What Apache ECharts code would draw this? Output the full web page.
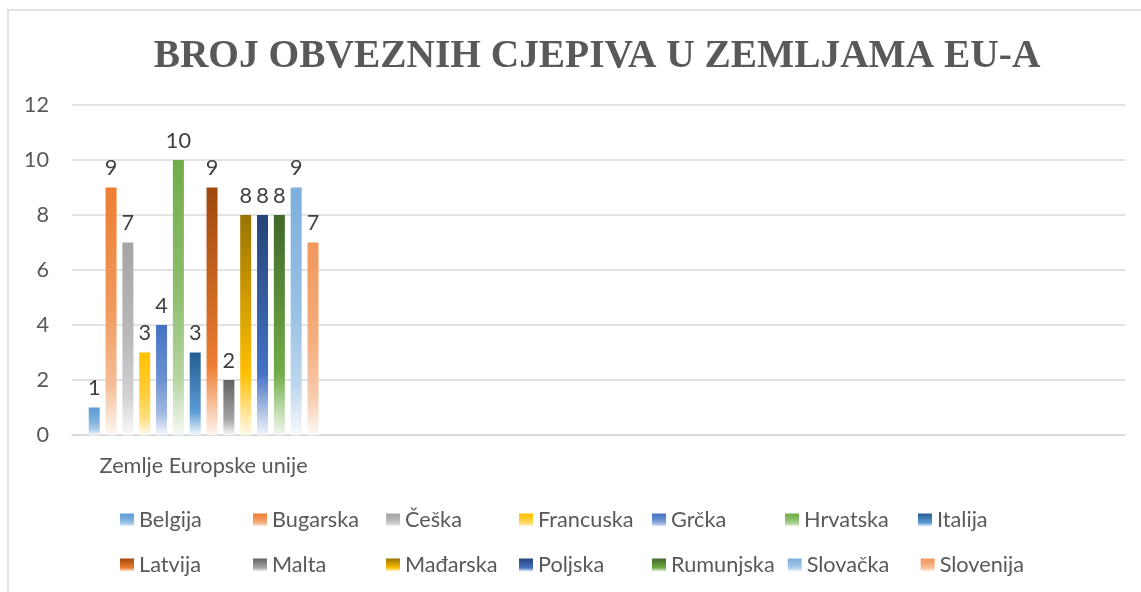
<!DOCTYPE html>
<html>
<head>
<meta charset="utf-8">
<script src="https://cdn.jsdelivr.net/npm/echarts@6/dist/echarts.min.js"></script>
<style>html,body{margin:0;padding:0;background:#fff}#c{width:1141px;height:592px}</style>
</head>
<body>
<div id="c"></div>
<script>
const titleText = 'BROJ OBVEZNIH CJEPIVA U ZEMLJAMA EU-A';
const categories = ['Zemlje Europske unije', '', '', ''];
const countries = ['Belgija','Bugarska','Češka','Francuska','Grčka','Hrvatska','Italija','Latvija','Malta','Mađarska','Poljska','Rumunjska','Slovačka','Slovenija'];
const values = [1, 9, 7, 3, 4, 10, 3, 9, 2, 8, 8, 8, 9, 7];
const topColors = ['#5B9BD5','#ED7D31','#A5A5A5','#FFC000','#4472C4','#70AD47','#255E91','#9E480E','#636363','#997300','#264478','#43682B','#7CAFDD','#F1975A'];
const baseColors = ['#5B9BD5','#ED7D31','#A5A5A5','#FFC000','#4472C4','#70AD47','#5B9BD5','#ED7D31','#A5A5A5','#FFC000','#4472C4','#70AD47','#7CAFDD','#F1975A'];
const yTicks = {min: 0, max: 12, interval: 2};

function mix(hex, t) {
  const n = parseInt(hex.slice(1), 16);
  const r = (n >> 16) & 255, g = (n >> 8) & 255, b = n & 255;
  const f = v => Math.round(v + (255 - v) * t);
  return 'rgb(' + f(r) + ',' + f(g) + ',' + f(b) + ')';
}
function grad(i) {
  const top = topColors[i], base = baseColors[i];
  let stops;
  if (top !== base) {
    stops = [
      {offset: 0, color: top},
      {offset: 0.72, color: base},
      {offset: 1, color: mix(base, 0.92)}
    ];
  } else {
    stops = [
      {offset: 0, color: top},
      {offset: 0.5, color: mix(top, 0.22)},
      {offset: 0.8, color: mix(top, 0.5)},
      {offset: 1, color: mix(top, 0.94)}
    ];
  }
  return new echarts.graphic.LinearGradient(0, 0, 0, 1, stops);
}

const FONT = 'Lato';
const FS = 21.7;
const chart = echarts.init(document.getElementById('c'), null, {renderer: 'canvas'});
const series = countries.map((name, i) => ({
  name: name,
  type: 'bar',
  data: [values[i]],
  barWidth: 11,
  barGap: '53%',
  itemStyle: {color: grad(i)},
  label: {
    show: true,
    position: 'top',
    distance: 8,
    color: '#404040',
    fontFamily: FONT,
    fontSize: FS
  }
}));

chart.setOption({
  animation: false,
  backgroundColor: '#fff',
  title: {
    text: titleText,
    left: 592,
    textAlign: 'center',
    top: 32,
    textStyle: {
      fontFamily: 'Liberation Serif',
      fontWeight: 'bold',
      fontSize: 39.4,
      color: '#595959'
    }
  },
  graphic: [{
    type: 'rect',
    shape: {x: 8, y: 10, width: 1300, height: 800},
    style: {fill: null, stroke: '#D9D9D9', lineWidth: 1.5},
    silent: true,
    z: -1
  }],
  grid: {left: 72, right: 16, top: 105, bottom: 157, containLabel: false},
  legend: {
    left: 120,
    top: 504,
    padding: 0,
    width: 940,
    itemWidth: 14,
    itemHeight: 13,
    itemGap: 13,
    icon: 'rect',
    textStyle: {
      fontFamily: FONT,
      fontSize: FS,
      color: '#595959',
      width: 101,
      lineHeight: 32
    },
    data: countries
  },
  xAxis: {
    type: 'category',
    data: categories,
    axisTick: {show: false},
    axisLine: {lineStyle: {color: '#D9D9D9', width: 1.5}},
    axisLabel: {fontFamily: FONT, fontSize: FS, color: '#595959', margin: 20}
  },
  yAxis: {
    type: 'value',
    min: yTicks.min,
    max: yTicks.max,
    interval: yTicks.interval,
    axisLine: {show: false},
    axisTick: {show: false},
    splitLine: {lineStyle: {color: '#D9D9D9', width: 1.5}},
    axisLabel: {fontFamily: FONT, fontSize: FS, color: '#595959', margin: 23}
  },
  series: series
});
</script>
</body>
</html>
